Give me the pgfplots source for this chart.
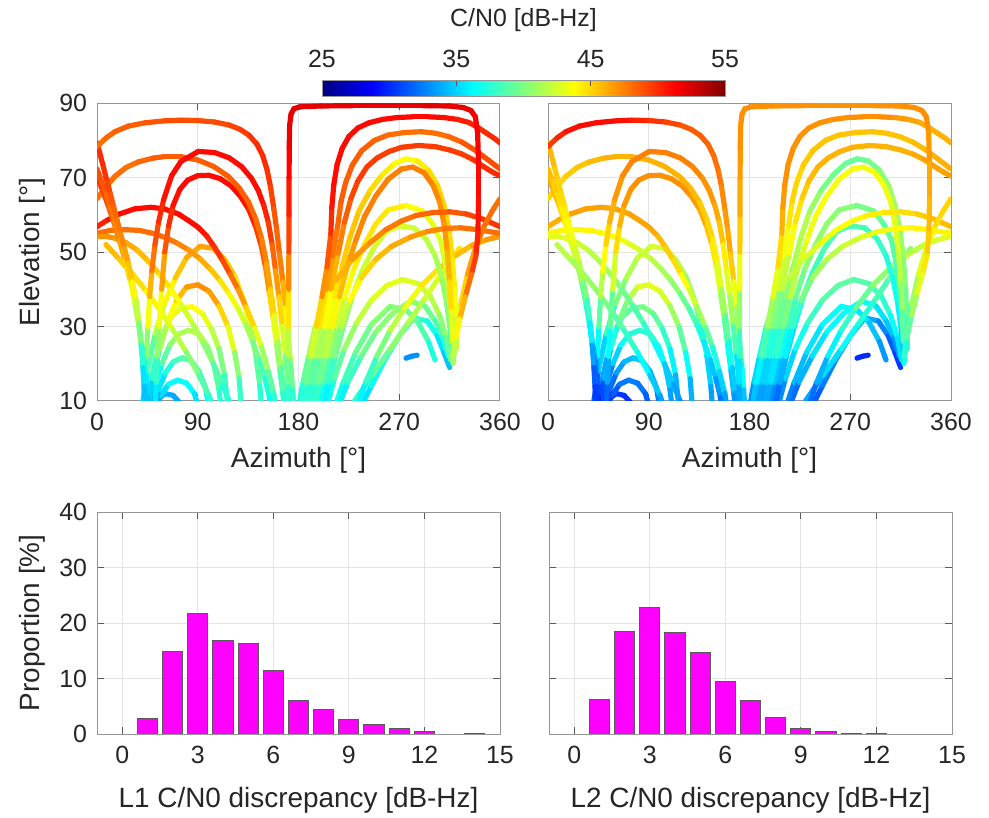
\documentclass[border=0pt]{standalone}
\usepackage{pgfplots}
\pgfplotsset{compat=1.18}
\usepackage{pgfplotstable}
\usepackage{fontspec}
\setmainfont{Liberation Sans}
\definecolor{txt}{RGB}{38,38,38}
\definecolor{axgray}{RGB}{150,150,150}
\definecolor{tickgray}{RGB}{90,90,90}
\definecolor{gridgray}{RGB}{228,228,228}
\definecolor{mag}{RGB}{255,0,255}
\newcommand\fs[1]{\fontsize{#1}{#1}\selectfont}

% ---------- satellite tracks: azimuth a, elevation e, L1 C/N0 c, L2 C/N0 d ----------
\pgfplotstableread{
a e c d
170.5 8 37 33
170.6 15 38.5 34.5
170.8 22 40.5 36.5
171.0 30 43 39
171.2 40 46 42
171.4 50 48.5 44.5
171.5 60 50 46
171.6 70 51 46.5
171.7 78 51.5 47
172.1 84 52 47
173.3 87 52 47
176 88.5 52 47
182 89.0 52 47
200 89.2 52 47
230 89.3 52 47
260 89.3 52 47
290 89.3 52 47
315 89.2 52 47
327 88.8 52 47
334 88.0 52 47
338 86.3 51.5 47
340 82 51.5 47
340.8 74 51 46.5
340.8 64 51 46
340.3 55 50.5 45.5
338.5 49 50 45
334.5 44 49 44
329 38 47 42
324 32 45 40
320 26 43 38
318 22 41 37
}\tZ
\pgfplotstableread{
a e c d
0 78.3 48 49
8 80.6 48 50
16 82.3 48.5 50.5
28 83.8 48.5 51
43 84.7 48.5 51
60 85.2 49 51
75 85.4 49 50.5
90 85.3 49 50
105 84.9 49 49.5
118 84.1 49 49
128 82.9 49.5 48.5
136 81.3 49.5 48.5
143 78.9 50 48.5
148 75.9 50 48
152 72 50 48
155 67.5 49.5 47.5
158 61.5 49 47
160.5 56 48.5 46.5
163 49.5 48 46
166 42 47 44.5
168.5 35 45 42
171 27 43 40
173 20 41 38
174.8 13 38 35
175.8 8 37 34
}\tB
\pgfplotstableread{
a e c d
182 8 37 34
186 15 38 35
191 22 41 37
196 30 44 40
201 38 46 42
205.5 46 48 44
208.9 55 49.5 45.5
209.8 62 50.5 46.5
211.5 68 51 47
214.5 73.5 51 47
219 77.8 51 47
225 81 51 47
233 83.3 51 47
243 84.7 51 47
255 85.6 51 47
268 86.1 51 47
282 86.3 51 47
296 86.3 51 47
310 86.1 51 47
322 85.6 50.5 46.5
332 84.8 50.5 46.5
340 83.5 50 46
348 81.9 50 46
355 80.5 50 46
360 79.3 50 46
}\tRa
\pgfplotstableread{
a e c d
0 79.3 50 46
3 76 50 46
6 72.5 50 45.5
9 69 49.5 45
12 65.5 49 45
15 62 48.5 44.5
18 58.5 48 44
21 55 47.5 43.5
24.5 51 47 43
28 47 46 42
31.5 42 45 41
35 37 43 39
37.5 31 41 37
39.5 25 39 35
41 19 36 32
42 14 35 31
42.5 8 34 30
}\tWa
\pgfplotstableread{
a e c d
185 8 37 33
189 15 38 34
194 22 40 36
199 30 43 39
205 40 46 41.5
210.5 49 47.5 43
215 57 48 44
218 63.5 48.5 45
222 68.5 48.5 45
228 73.3 48.5 45
236.5 77.2 48.5 45.5
248 80 48.5 45.5
260 81.4 48 45.5
275 82.1 48 45.5
290 82.3 48 45.5
302 81.9 48 45.5
314 81 48 45.5
326 79.5 48.5 45.5
338 77.3 49 46
349 74.8 49 46
360 72.3 49 46
}\tRb
\pgfplotstableread{
a e c d
0 72.3 49 46
4 69 49 45.5
8 65.5 48.5 45
12 62 48 44.5
16 58.5 47.5 44
20 55 47 43
24 51 46 42
28 46.5 45 41
32 41 43.5 39.5
35.5 35 42 37.5
38.5 28 40 35.5
41 21 37 33
43 14 35 31
44 8 34 30
}\tWb
\pgfplotstableread{
a e c d
188 8 37 33
193 15 38 34
198 22 40 36
203 30 42.5 38.5
209 40 45 41
215.5 49.7 47 43
221 58 48 44
227 64.5 49 45
233 69 49.5 45.5
241 72.8 49.5 46
250 75.2 49.5 46
261 77 49.5 46
272 78.1 49.5 46
287 78.6 49.5 46
302 78.3 49.5 46
315 77.4 49.5 46
326 76.3 49.5 46
336 74.8 49.5 46.5
345 73 50 46.5
353 71.5 50 46.5
360 70.4 50 46.5
}\tRc
\pgfplotstableread{
a e c d
0 70.4 50 46.5
5 66.5 49.5 46
10 62.5 49 45.5
15 58 48 44.5
20 53 47 43.5
25 48 46 42
30 42 44 40
34 36 42.5 38
37.5 30 41 36
40.5 24 38 33
43 17 36 31.5
45 11 34.5 30
45.5 8 34 30
}\tWc
\pgfplotstableread{
a e c d
42 8 35 31
43 15 36.5 32.5
44 22 39 35
45.5 30 42 37.5
47 38 45 40.5
49 45 47 43
51.8 52 48.5 44.5
55 58 49.5 45.5
59.5 64 50.5 46.5
66.7 70.5 51 47
75 74.3 51 47.5
90.5 77 51 47.5
105 76.7 51 47.5
118 75.3 51 47.5
129.2 72.9 51 47.5
138 69.8 51 47
144.1 66.5 51 47
149 62.5 50.5 46.5
153 58 50 46
156.5 52 49 45
159.5 45 47.5 43.5
162.5 38 46 42
165.5 30 44 40
168.5 22 41 37
171 14 38 34
172.5 8 37 33
}\tC
\pgfplotstableread{
a e c d
318 20 40 36
321 28 42 38
325 36 44 40
331 44 46 42
338 51 47 43.5
346 57 48 44.5
353 61 48 45
360 64.3 48 45
}\tDr
\pgfplotstableread{
a e c d
0 64.3 48 45
8 67.5 48 45
16 70.3 48 45
26 72.7 48 45.5
37 74.2 48 45.5
50 75.2 48.5 46
60 75.6 48.5 46
75 75.6 48.5 46
90 74.7 48.5 46
104 73 48.5 46
117.3 70.3 48.5 46
127 67.2 48.5 46
135.2 63.5 48.5 45.5
142 58.7 48 45
147.1 53.5 48 45
151.5 47 47 43.5
155 40 46 42
158.5 33 44 40
161.5 26 42 38
164.5 19 40 36
167 12 37.5 33.5
168.5 8 37 33
}\tDl
\pgfplotstableread{
a e c d
52 8 35 31
53 15 36.5 32.5
54 22 39 35
55.5 30 42 37.5
57.8 40 45 41
60.5 50 48 44
64 57 49.5 45.5
68 62.5 50.5 46.5
74 66.8 51 47
81 69.3 51 47
90 70.5 51 47
100 70.6 51 47
110 69.7 51 47
120 67.7 51 47
128 65 51 47
135.5 61.5 50.5 46.5
141.5 57 50 46
146.5 52 49 45
150.5 46 48 44
154 39 46 42
157.5 32 44 40
160.5 25 42 37.5
163.5 18 39.5 35
166 12 37.5 33.5
167.5 8 37 33
}\tE
\pgfplotstableread{
a e c d
180 8 36 32
184 15 38 34
189 22 40 36
195 30 42 38
203 37 44 40
214 42.5 45.5 41.5
228 48 46.5 42.5
244 52.5 47 43
258 56 47.5 43.5
272 58.3 48 44
285 59.8 48 44
300 60.6 48.5 44.5
315 60.8 48.5 44.5
330 60.2 49 45
345 58.8 49.5 45.5
360 56.8 50 46
}\tRg
\pgfplotstableread{
a e c d
0 56.8 50 46
10 58.7 50.5 46
20 60.2 51 46.5
34 61.6 51 46.5
48 62 51 46.5
60 61.6 51 46.5
72.7 60.2 51 46.5
82 58.4 51 46.5
90.5 56.6 51 46.5
98 54.3 50.5 46
105 51.3 50 45.5
112 47.8 49.5 45
119 44 48.5 44.5
126 40 47.5 43
133 35.3 46 42
141 29.5 44 40
147 24.5 42 38
153 18 40 36
158 12 38 34
160 8 37 33
}\tF
\pgfplotstableread{
a e c d
203 8 35 31
207 15 37 33
212 22 39 35
218 30 41 37
226 37 43 39
236 43 44.5 40.5
249 48 45.5 41.5
263 51.5 46 42
280 54 46.5 42.5
295 55.5 47 43
310 56.3 47.5 43.5
325 56.5 48 44
340 56 48 44
350 55.5 48 44
360 55 48 44
}\tRh
\pgfplotstableread{
a e c d
0 55 48 44
12 55.8 48 44
25 56 48 44
38 55.8 48 44
50 55 48 44
62 53.8 48 43.5
72 52.3 47.5 43
82 50.5 47 42.5
92 48.2 46.5 42
101 45.5 46 41.5
110 42.3 45 41
118 38.8 44 40
126 34.8 43 39
133 30.5 42 38
139 26 40.5 36.5
145 21 39 35
150 16 38 34
154 11 36.5 32.5
155.5 8 36 32
}\tG
\pgfplotstableread{
a e c d
232 8 35 31
240 15 37 33
250 22 39 35
262 29 41 37
275 35 42.5 38.5
290 41 44 40
305 45.5 45 41
320 49 45.5 41.5
335 51.8 46 42
348 53.3 46.5 42.5
360 54.2 47 43
}\tRi
\pgfplotstableread{
a e c d
0 54.2 47 43
8 54.2 47 43
16 53.7 47 43
26 52.5 46.5 42.5
36 50.5 46 42
46 47.5 45.5 41.5
56 44 45 41
66 40 44 40
76 35.5 43 39
86 30.5 42 38
95 25.5 41 37
104 20 39.5 35.5
112 14.5 38 34
118 10 37 33
120 8 36.5 32.5
}\tGb
\pgfplotstableread{
a e c d
8 52 46 42
20 48 45.5 41.5
32 44 45 41
44 39.5 44.5 40.5
56 34.5 43.5 39.5
68 29 42.5 38.5
80 23 41 37
91 17 39.5 35.5
100 11.5 38 34
104 8 37 33
}\tQ
\pgfplotstableread{
a e c d
40 8 35 31
45 18 37 33
52 28 41 37
60 36 43 39
70 43 45 41
80 48.5 46 42
92 51.5 46.5 42.5
104 51 46.5 42.5
114 48 46 42
123 43.5 45 41
131 37 44 40
137 30 42 38
142 22 40 36
145.5 14 38 34
147 8 37 33
}\tPa
\pgfplotstableread{
a e c d
45 8 34 30
50 16 36 32
56 24 40 36
63 31 42.5 38.5
71 37 45 41
80 40.6 46.5 42.5
90 41.2 47 43
100 39.5 47 43
109 35.5 46 42
117 30 44 40
123 23 42 38
127 16 39 35
129 8 37 33
}\tPb
\pgfplotstableread{
a e c d
44 8 34 30
48 15 36 32
53 22 39 35
59 28 41 37
66 32.5 42.5 38.5
75 35 43.5 39.5
85 35.3 44 40
94 33.5 43.5 39.5
102 29.5 42.5 38.5
109 24 41 37
114 17 39 35
117 8 37 33
}\tPc
\pgfplotstableread{
a e c d
48 8 33 30
52 14 35 31.5
58 20 38 34
65 25 40 36
73 28 41 37
82 29 41.5 37.5
91 28 41.5 37.5
99 24.5 41 37
105 19 39.5 35.5
109 13 38 34
111 8 37 33
}\tPd
\pgfplotstableread{
a e c d
50 8 33 30
55 13 34.5 31
61 17.5 36.5 33
68 20.5 38 34
76 21.6 38.5 34.5
84 20.8 38.5 34.5
91 18 38 34
97 13.5 37 33
100 8 36 32
}\tPe
\pgfplotstableread{
a e c d
52 8 33 30
57 11.5 34.5 31
64 14.5 36 32
72 15.6 36.5 32.5
80 14.8 36.5 32.5
87 12 36 32
91 8 35 31
}\tPf
\pgfplotstableread{
a e c d
48 8 32 29.5
54 10.5 33 30
61 12 34 30.5
68 11.5 34 30.5
74 9.5 33.5 30
77 8 33 29.5
}\tPg
\pgfplotstableread{
a e c d
191 8 37 33
196 15 38.5 34.5
201 22 40.5 36.5
206.5 30 42.5 38.5
212.5 38 44 40
219 46 45 41
226 54 45.5 41.5
234 61 45.5 41.5
244 66.5 45 40
255 70.8 44.5 39.5
266 73.8 44 39.5
276 75 43.5 39
286 74.5 44 39.5
296 72 44.5 40
304 68 45 40.5
310 62.5 45 41
314.5 56 45 41
317.5 48 44.5 40.5
319.5 40 44 40
320.5 32 43 39
321 24 41 37
}\tRd
\pgfplotstableread{
a e c d
194 8 37 33
199 15 38.5 34.5
204.5 22 40.5 36.5
210 30 43 39
216.5 38 45 41
223.5 46 46.5 42.5
231 53 47 43
239 59.5 47.5 43.5
249 65 47.5 43.5
260 69.5 47.5 43.5
272 72.3 47.5 43.5
282 72.8 47.5 43.5
292 71.3 47.5 43.5
300 68 47.5 43.5
306 63.5 47 43
310 57.5 47 43
313 50 46.5 42.5
315 42 45.5 41.5
316.5 34 44 40
317.5 26 42 38
}\tRe
\pgfplotstableread{
a e c d
197 8 36 32
202.5 15 37.5 33.5
208 22 39.5 35.5
214.5 30 41.5 37.5
221.5 38 43 39
229.5 45.5 44 40
239 52 44.5 40.5
249 57.5 44.5 40.5
260 61.3 44.5 40.5
276 62.5 44 40
291 61 43.5 39.5
300 57.5 43 39
307 53 43 39
311 47 42.5 38.5
314 40 42 38
316 33 41 37
317.5 26 40 36
}\tRf
\pgfplotstableread{
a e c d
201 8 35.5 31.5
207 15 37 33
213 22 38.5 34.5
220 30 40 36
228 38 41 37
237 45 42 38
247 51 42.5 38.5
258 55.5 42.5 38.5
270 57 42.5 38.5
283 56.5 42.5 38.5
294 53.5 42 38
302 49 41.5 37.5
308 43 41 37
312.5 36 40.5 36.5
315.5 29 39.5 35.5
317.5 23 38 34
}\tRj
\pgfplotstableread{
a e c d
205 8 36 32
212 16 38 34
221 24 40 36
232 31 41.5 37.5
245 37 42.5 38.5
259 41 43 39
273 42.6 43 39
287 41.5 42.5 38.5
298 38 42 38
306 33 41 37
312 27 40 36
316 21 39 35
}\tSa
\pgfplotstableread{
a e c d
215 8 35 31
224 15 37 33
236 22 39 35
249 28.5 40 36
264 33.5 40.5 36.5
280 36.8 40.5 36.5
293 35.5 40 36
302 31.5 39 35
309 27 38 34
314 22 36 32
}\tSb
\pgfplotstableread{
a e c d
212 8 36 32
220 15 37.5 33.5
231 23 39 35
245 30.5 40 36
262 35.4 40.5 36.5
276 34.5 40 36
287 31 39 35
296 26 38 34
302 21 36.5 32.5
}\tSc
\pgfplotstableread{
a e c d
235 8 35 31
245 14 36 32
257 21 37 33
270 27.5 38 34
283 32.3 38 34
295 31.5 37.5 33.5
304 27.5 36 32
310 23 35 31
315 19 34 30
}\tSd
\pgfplotstableread{
a e c d
276 21.5 33 30
281 22 33 30
286 22.3 33 30
}\tSe
\pgfplotstableread{
a e c d
230 10 37 33
246 17 38.5 34.5
262 24 40 36
278 31 41 37
293 37.5 42 38
305 43 43 39
315 47.5 44 40
324 51 45 41
}\tT

\newcommand\arc[2]{\addplot[mesh, line width=2.6bp, line cap=round, point meta=explicit] table[x=a,y=e,meta=#2] {#1};}
\newcommand\allarcs[1]{%
\arc{\tSe}{#1}\arc{\tSd}{#1}\arc{\tSc}{#1}\arc{\tSb}{#1}\arc{\tSa}{#1}%
\arc{\tPg}{#1}\arc{\tPf}{#1}\arc{\tPe}{#1}\arc{\tPd}{#1}\arc{\tPc}{#1}\arc{\tPb}{#1}\arc{\tPa}{#1}%
\arc{\tT}{#1}\arc{\tRi}{#1}\arc{\tRj}{#1}\arc{\tRf}{#1}\arc{\tRd}{#1}\arc{\tRe}{#1}%
\arc{\tRh}{#1}\arc{\tG}{#1}\arc{\tGb}{#1}\arc{\tQ}{#1}%
\arc{\tRg}{#1}\arc{\tF}{#1}\arc{\tE}{#1}\arc{\tDr}{#1}\arc{\tDl}{#1}\arc{\tC}{#1}%
\arc{\tWc}{#1}\arc{\tRc}{#1}\arc{\tWb}{#1}\arc{\tRb}{#1}\arc{\tWa}{#1}\arc{\tRa}{#1}%
\arc{\tB}{#1}\arc{\tZ}{#1}}

\pgfplotsset{
  mstyle/.style={scale only axis, axis line style={draw=axgray, line width=0.5bp},
    grid=major, grid style={draw=gridgray, line width=0.5bp},
    tick align=inside, major tick length=3.5bp, tick style={draw=tickgray, line width=0.5bp},
    tick label style={font=\fs{12.5}, text=txt},
    label style={font=\fs{14}, text=txt},
    /pgf/number format/assume math mode=true,
    xticklabel style={yshift=-2.5bp}, yticklabel style={xshift=-1.5bp}},
  sky/.style={mstyle, width=201.5bp, height=149bp, xmin=0, xmax=360, ymin=10, ymax=90,
    xtick={0,90,180,270,360}, ytick={10,30,50,70,90}, colormap/jet,
    point meta min=25, point meta max=55, xlabel={Azimuth [°]},
    xlabel style={at={(axis description cs:0.5,-0.198)}, anchor=center}},
  hist/.style={mstyle, width=201.5bp, height=111bp, xmin=-1, xmax=15, ymin=0, ymax=40,
    xtick={0,3,6,9,12,15}, ytick={0,10,20,30,40},
    xlabel style={at={(axis description cs:0.5,-0.297)}, anchor=center}},
}

\begin{document}
\begin{tikzpicture}
\useasboundingbox (0,0) rectangle (494.5bp,409bp);
% colorbar
\begin{axis}[at={(161bp,360.5bp)}, anchor=south west, scale only axis, width=201.5bp, height=8bp,
  xmin=25, xmax=55, ymin=0, ymax=1, colormap/jet, point meta min=25, point meta max=55,
  xtick={25,35,45,55}, ytick=\empty, xtick pos=top, xticklabel pos=top, tick align=inside,
  major tick length=2.5bp, tick style={draw=tickgray, line width=0.5bp},
  axis line style={draw=axgray, line width=0.5bp}, axis on top,
  tick label style={font=\fs{12.5}, text=txt}, xticklabel style={yshift=3bp},
  /pgf/number format/assume math mode=true,
  title={C/N0 [dB-Hz]}, title style={font=\fs{12.5}, text=txt, at={(axis description cs:0.5,4.05)}, anchor=center}]
\addplot[surf, shader=interp, mesh/rows=2, point meta=explicit] coordinates {
(25,0)[25] (28.75,0)[28.75] (32.5,0)[32.5] (36.25,0)[36.25] (40,0)[40] (43.75,0)[43.75] (47.5,0)[47.5] (51.25,0)[51.25] (55,0)[55]
(25,1)[25] (28.75,1)[28.75] (32.5,1)[32.5] (36.25,1)[36.25] (40,1)[40] (43.75,1)[43.75] (47.5,1)[47.5] (51.25,1)[51.25] (55,1)[55]};
\end{axis}
% L1 sky
\begin{axis}[sky, at={(48.5bp,208.5bp)}, anchor=south west, ylabel={Elevation [°]},
  ylabel style={at={(axis description cs:-0.161,0.5)}, anchor=center}]
\allarcs{c}
\end{axis}
% L2 sky
\begin{axis}[sky, at={(274bp,208.5bp)}, anchor=south west, yticklabels={}]
\allarcs{d}
\end{axis}
% L1 histogram
\begin{axis}[hist, at={(48.5bp,42bp)}, anchor=south west, ylabel={Proportion [\%]},
  ylabel style={at={(axis description cs:-0.161,0.5)}, anchor=center},
  xlabel={L1 C/N0 discrepancy [dB-Hz]}]
\addplot[ybar, bar width=0.8, fill=mag, draw=tickgray, line width=0.5bp] coordinates {
(1,2.76) (2,14.9) (3,21.7) (4,16.9) (5,16.25) (6,11.4) (7,6.06) (8,4.5) (9,2.7) (10,1.74) (11,1.02) (12,0.48) (13,0) (14,0.18)};
\end{axis}
% L2 histogram
\begin{axis}[hist, at={(274.5bp,42bp)}, anchor=south west, yticklabels={},
  xlabel={L2 C/N0 discrepancy [dB-Hz]}]
\addplot[ybar, bar width=0.8, fill=mag, draw=tickgray, line width=0.5bp] coordinates {
(1,6.3) (2,18.5) (3,22.8) (4,18.2) (5,14.7) (6,9.4) (7,6.06) (8,3.06) (9,1.02) (10,0.54) (11,0.18) (12,0.12) (13,0) (14,0)};
\end{axis}
\end{tikzpicture}
\end{document}
